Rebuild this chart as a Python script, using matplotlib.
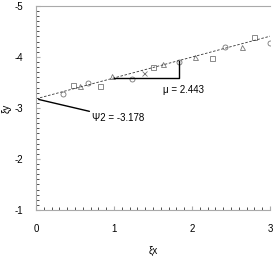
import matplotlib.pyplot as plt
import numpy as np
from matplotlib.ticker import MultipleLocator

plt.rcParams['font.family'] = ['Liberation Sans', 'DejaVu Sans']
plt.rcParams['axes.unicode_minus'] = False

# точки по сериям (ξx, ξy)
sq_x = [0.48, 0.82, 1.50, 2.25, 2.80]
sq_y = [-3.45, -3.43, -3.81, -3.98, -4.39]
tri_x = [0.56, 0.97, 1.63, 2.04, 2.64]
tri_y = [-3.43, -3.62, -3.86, -3.99, -4.20]
circ_x = [0.35, 0.67, 1.23, 1.83, 2.42, 3.00]
circ_y = [-3.27, -3.48, -3.56, -3.90, -4.20, -4.28]
cross_x = [1.38]
cross_y = [-3.69]

psi2 = -3.178
mu = 2.443

fig = plt.figure(figsize=(2.79, 2.56), dpi=100)
ax = fig.add_axes([0.129, 0.180, 0.839, 0.797])

mk = dict(linestyle='none', markerfacecolor='none', markeredgecolor='#777777',
          markeredgewidth=0.6, markersize=3.6)
ax.plot(sq_x, sq_y, marker='s', **mk)
ax.plot(tri_x, tri_y, marker='^', **mk)
ax.plot(circ_x, circ_y, marker='o', **mk)
ax.plot(cross_x, cross_y, marker='x', **mk)

# линия тренда
xl = np.array([0, 3])
ax.plot(xl, psi2 - xl / mu, color='#333333', linestyle=(0, (3, 2)), linewidth=0.6)

# треугольник наклона
x1, x2 = 1.0, 1.83
ax.plot([x1, x2, x2], [psi2 - x1 / mu, psi2 - x1 / mu, psi2 - x2 / mu],
        color='black', linewidth=1.0)

ax.annotate('Ψ2 = -3.178', xy=(0, psi2), xytext=(0.72, -2.80),
            fontsize=7, va='center', ha='left',
            arrowprops=dict(arrowstyle='-', color='black', lw=1.0,
                            shrinkA=0, shrinkB=2))
ax.text(1.63, -3.35, 'μ = 2.443', fontsize=7, va='center', ha='left')

ax.set_xlim(0, 3)
ax.set_ylim(-1, -5)
ax.set_xticks([0, 1, 2, 3])
ax.set_yticks([-5, -4, -3, -2, -1])
ax.xaxis.set_minor_locator(MultipleLocator(0.1))
ax.yaxis.set_minor_locator(MultipleLocator(0.1))
ax.tick_params(which='major', direction='in', length=3, color='#aaaaaa',
               labelsize=7, width=0.8)
ax.tick_params(axis='x', which='major', pad=10)
ax.tick_params(axis='y', which='major', pad=9)
ax.tick_params(which='minor', direction='in', length=2, color='#333333', width=0.6)

for s in ['left', 'bottom', 'top']:
    ax.spines[s].set_color('#aaaaaa')
    ax.spines[s].set_linewidth(0.8)
ax.spines['right'].set_visible(False)

ax.set_xlabel('ξx', fontsize=7, labelpad=9)
ax.set_ylabel('ξy', fontsize=7, labelpad=2)

fig.savefig('out.png', dpi=100)
